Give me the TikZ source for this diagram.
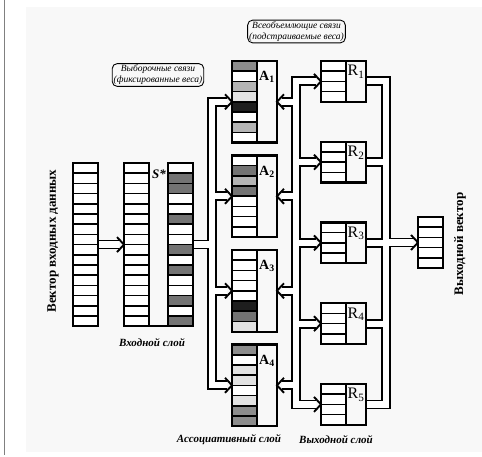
\documentclass[tikz,border=0pt]{standalone}
\usepackage{fontspec}
\setmainfont{Liberation Serif}
\usetikzlibrary{backgrounds}

\definecolor{cellK}{HTML}{1E1E1E}
\definecolor{cellG}{HTML}{737373}
\definecolor{cellM}{HTML}{8C8C8C}
\definecolor{cellL}{HTML}{B4B4B4}
\definecolor{cellV}{HTML}{E2E2E2}
\definecolor{paper}{HTML}{F8F8F8}

% column of 25 x 10.2 cells: x, top y, fills
\newcommand{\cellcol}[3]{%
  \foreach \c [count=\i from 0] in {#3}
    \draw[cell, fill=\c] (#1,#2+\i*10.2) rectangle ++(25,10.2);
}
\newcommand{\blankcol}[3]{%
  \foreach \i in {1,...,#3}
    \draw[cell, fill=white] (#1,#2+\i*10.2-10.2) rectangle ++(25,10.2);
}
% open heads of the double arrows
\newcommand{\headright}[1]{%
  \draw[head] ([xshift=-7pt,yshift=7.5pt]#1) -- (#1) -- ([xshift=-7pt,yshift=-7.5pt]#1);}
\newcommand{\headleft}[1]{%
  \draw[head] ([xshift=7pt,yshift=7.5pt]#1) -- (#1) -- ([xshift=7pt,yshift=-7.5pt]#1);}
% all double-line buses, drawn once black and once white
\newcommand{\buspaths}[1]{%
  \draw[#1, line cap=rect] (A1.west -| sa) -- (A4.west -| sa);
  \draw[#1] (sR.east) -- (sR.east -| sa);
  \draw[#1, line cap=rect] (R1.west -| ar) -- (R5.west -| ar);
  \draw[#1, line cap=rect] (R1.east -| ro) -- (R5.east -| ro);
  \foreach \k in {1,...,5} {\draw[#1] (R\k.east) -- (R\k.east -| ro);}
  \draw[#1, shorten >=5pt] (vin.east) -- (sL.west);
  \foreach \k in {1,...,4} {
    \draw[#1, shorten >=5pt] (A\k.west -| sa) -- (A\k.west);
    \draw[#1, shorten >=5pt] (A\k.east -| ar) -- (A\k.east);
  }
  \foreach \k in {1,...,5} {\draw[#1, shorten >=5pt] (R\k.west -| ar) -- (R\k.west);}
  \draw[#1, shorten >=5pt] (out.west -| ro) -- (out.west);
}

\begin{document}
\begin{tikzpicture}[x=1pt,y=-1pt,
    cell/.style={line width=1.6pt},
    colbox/.style={draw, line width=2.2pt, inner sep=0pt, outer sep=0pt,
      anchor=north west, minimum width=25pt},
    unitbox/.style={colbox, minimum width=45pt},
    note/.style={draw, rounded corners=5pt, line width=0.9pt, align=center,
      inner sep=1.5pt, font=\fontsize{9.5}{11}\selectfont\itshape},
    layer/.style={font=\fontsize{11}{12}\selectfont\bfseries\itshape},
    vlabel/.style={rotate=90, font=\fontsize{13}{15}\selectfont\bfseries},
    busline/.style={line width=9.8pt},
    bushole/.style={white, line width=6.2pt},
    head/.style={line width=1.9pt},
  ]
  \useasboundingbox (0,0) rectangle (482,457);

  % cells
  \blankcol{73}{163}{16}
  \blankcol{124}{163}{16}
  \cellcol{168}{163}{white,cellG,cellG,white,white,cellG,white,white,
    cellG,white,cellG,white,white,cellG,white,cellG}
  \cellcol{232}{61}{cellM,white,cellL,cellV,cellK,white,cellL,white}
  \cellcol{232}{155.5}{white,cellG,cellL,cellG,white,white,white,white}
  \cellcol{232}{250}{white,white,white,white,white,cellK,cellG,cellV}
  \cellcol{232}{344.5}{cellM,white,cellV,cellV,white,cellV,cellM,cellM}
  \foreach \k in {1,...,5} {\blankcol{321}{61+80.75*\k-80.75}{4}}
  \blankcol{418}{217}{5}

  % frames
  \node[colbox, minimum height=163.2pt] (vin) at (73,163) {};
  \node[colbox, minimum height=163.2pt] (sL) at (124,163) {};
  \node[colbox, minimum height=163.2pt] (sR) at (168,163) {};
  \draw[line width=2.2pt] (sL.south east) -- (sR.south west);
  \foreach \k in {1,...,4} {
    \node[unitbox, minimum height=81.6pt] (A\k) at (232,{61+94.5*(\k-1)}) {};
    \draw[line width=2.2pt] ([xshift=25pt]A\k.north west) -- ([xshift=25pt]A\k.south west);
    \node[font=\fontsize{14}{14}\selectfont\bfseries] (A\k lbl)
      at ([xshift=35pt,yshift=-16pt]A\k.north west) {A\textsubscript{\k}};
  }
  \foreach \k in {1,...,5} {
    \node[unitbox, minimum height=40.8pt] (R\k) at (321,{61+80.75*(\k-1)}) {};
    \draw[line width=2.2pt] ([xshift=25pt]R\k.north west) -- ([xshift=25pt]R\k.south west);
    \node[font=\fontsize{16}{16}\selectfont] (R\k lbl)
      at ([xshift=35pt,yshift=-11pt]R\k.north west) {R\textsubscript{\k}};
  }
  \node[colbox, minimum height=51pt] (out) at (418,217) {};

  % texts
  \node[vlabel] (vinlbl) at (53,241) {Вектор входных данных};
  \node[vlabel] (outlbl) at (460,244) {Выходной вектор};
  \node[font=\fontsize{13}{13}\selectfont\bfseries\itshape] (sstar) at (159,174) {S*};
  \node[note] (fixed) at (158,75) {Выборочные связи\\(фиксированные веса)};
  \node[note] (tuned) at (296.5,31.5) {Всеобъемлющие связи\\(подстраиваемые веса)};
  \node[layer] (inlayer) at (152,343) {Входной слой};
  \node[layer] (alayer) at (229,440) {Ассоциативный слой};
  \node[layer] (rlayer) at (336,440) {Выходной слой};

  \begin{scope}[on background layer]
    \fill[paper] (26,7) rectangle (482,452);
    \draw[gray, line width=1pt] (4,0) -- (4,455);
    \coordinate (sa) at (212,0);
    \coordinate (ar) at (296,0);
    \coordinate (ro) at (386,0);
    \buspaths{busline}
    \buspaths{bushole}
    \headright{sL.west}
    \foreach \k in {1,...,4} {\headright{A\k.west} \headleft{A\k.east}}
    \foreach \k in {1,...,5} {\headright{R\k.west}}
    \headright{out.west}
  \end{scope}
\end{tikzpicture}
\end{document}
